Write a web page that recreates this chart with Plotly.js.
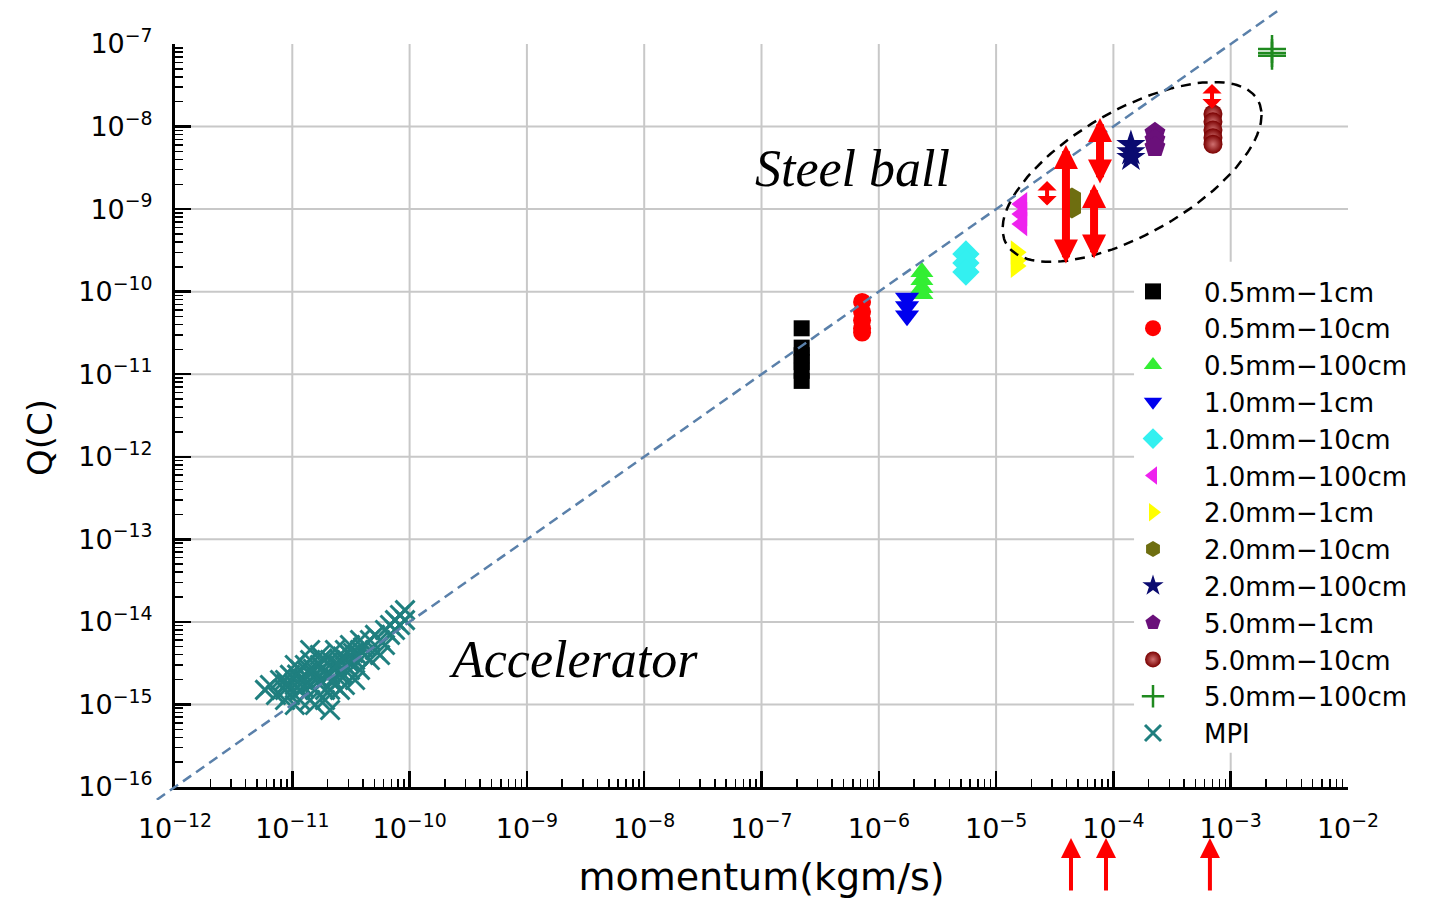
<!DOCTYPE html>
<html><head><meta charset="utf-8">
<script src="https://cdn.plot.ly/plotly-3.0.1.min.js"></script>
<style>html,body{margin:0;padding:0;background:#fff}#chart{width:1443px;height:900px}</style>
</head><body><div id="chart"></div>
<script>
// ---------- DATA ----------
const seriesNames = ["0.5mm\u22121cm","0.5mm\u221210cm","0.5mm\u2212100cm","1.0mm\u22121cm","1.0mm\u221210cm","1.0mm\u2212100cm","2.0mm\u22121cm","2.0mm\u221210cm","2.0mm\u2212100cm","5.0mm\u22121cm","5.0mm\u221210cm","5.0mm\u2212100cm","MPI"];

const p_05_1   = [2.2e-7, 2.2e-7, 2.2e-7, 2.2e-7, 2.2e-7, 2.2e-7];
const q_05_1   = [3.6e-11, 2.1e-11, 1.7e-11, 1.4e-11, 1.1e-11, 8.3e-12];
const p_05_10  = [7.2e-7, 7.2e-7, 7.2e-7, 7.2e-7, 7.2e-7];
const q_05_10  = [7.5e-11, 5.7e-11, 4.5e-11, 3.6e-11, 3.2e-11];
const p_05_100 = [2.33e-6, 2.33e-6, 2.33e-6, 2.33e-6];
const q_05_100 = [1.73e-10, 1.38e-10, 1.11e-10, 9.4e-11];
const p_10_1   = [1.74e-6, 1.74e-6, 1.74e-6];
const q_10_1   = [8.4e-11, 6.6e-11, 5.1e-11];
const p_10_10  = [5.53e-6, 5.53e-6, 5.53e-6];
const q_10_10  = [2.86e-10, 2.22e-10, 1.73e-10];
const p_10_100 = [1.66e-5, 1.66e-5, 1.66e-5];
const q_10_100 = [1.15e-9, 8.7e-10, 6.6e-10];
const p_20_1   = [1.48e-5, 1.48e-5, 1.48e-5];
const q_20_1   = [3.0e-10, 2.4e-10, 2.05e-10];
const p_20_10  = [4.43e-5, 4.43e-5];
const q_20_10  = [1.36e-9, 1.03e-9];
const p_20_100 = [1.41e-4, 1.41e-4, 1.41e-4];
const q_20_100 = [6.0e-9, 4.9e-9, 4.2e-9];
const p_50_1   = [2.26e-4, 2.26e-4, 2.26e-4];
const q_50_1   = [8.4e-9, 6.9e-9, 5.65e-9];
const p_50_10  = [7.06e-4, 7.06e-4, 7.06e-4, 7.06e-4, 7.06e-4];
const q_50_10  = [1.42e-8, 1.14e-8, 9.1e-9, 7.3e-9, 6.1e-9];
const p_50_100 = [2.25e-3, 2.25e-3, 2.25e-3];
const q_50_100 = [8.7e-8, 7.8e-8, 7.2e-8];

const p_mpi = [5.85e-12,6.45e-12,7.26e-12,7.86e-12,8.67e-12,8.67e-12,9.55e-12,9.55e-12,1.05e-11,1.05e-11,
  1.16e-11,1.16e-11,1.16e-11,1.28e-11,1.28e-11,1.42e-11,1.42e-11,1.42e-11,1.56e-11,1.56e-11,
  1.72e-11,1.72e-11,1.72e-11,1.90e-11,1.90e-11,2.10e-11,2.10e-11,2.10e-11,2.31e-11,2.31e-11,
  2.31e-11,2.55e-11,2.55e-11,2.81e-11,2.81e-11,3.10e-11,3.10e-11,3.10e-11,3.43e-11,3.43e-11,
  3.78e-11,3.78e-11,4.17e-11,4.17e-11,4.59e-11,4.59e-11,5.07e-11,5.07e-11,5.60e-11,6.17e-11,
  6.17e-11,6.81e-11,6.81e-11,7.51e-11,8.28e-11,8.28e-11,9.14e-11,9.14e-11,1.90e-11,2.55e-11,
  1.05e-11,1.42e-11,2.81e-11,3.78e-11,5.60e-11,7.51e-11,1.56e-11,1.16e-11,8.67e-12,2.10e-11,
  1.35e-11,1.65e-11,2.0e-11,2.4e-11,2.7e-11,3.3e-11,1.1e-11,1.5e-11,1.8e-11,2.2e-11,
  2.65e-11,3.0e-11,1.25e-11,4.0e-11,9.0e-12,1.95e-11,2.45e-11,3.6e-11];
const q_mpi = [1.50e-15,1.72e-15,1.30e-15,1.98e-15,1.50e-15,1.13e-15,2.28e-15,1.30e-15,1.72e-15,9.86e-16,
  2.62e-15,1.50e-15,1.13e-15,1.98e-15,3.01e-15,1.72e-15,1.13e-15,3.46e-15,2.28e-15,1.50e-15,
  3.01e-15,1.98e-15,3.97e-15,2.62e-15,1.50e-15,3.46e-15,2.28e-15,8.57e-16,4.57e-15,3.01e-15,
  1.72e-15,3.46e-15,2.28e-15,4.57e-15,3.01e-15,3.97e-15,2.62e-15,5.25e-15,3.46e-15,1.98e-15,
  4.57e-15,6.04e-15,3.97e-15,5.25e-15,6.04e-15,3.46e-15,6.95e-15,4.57e-15,6.04e-15,7.98e-15,
  5.25e-15,9.18e-15,6.95e-15,1.05e-14,1.21e-14,9.18e-15,1.39e-14,1.05e-14,1.13e-15,1.50e-15,
  3.01e-15,4.57e-15,1.72e-15,2.62e-15,3.97e-15,7.98e-15,9.86e-16,1.98e-15,1.98e-15,1.50e-15,
  2.5e-15,2.1e-15,3.2e-15,2.9e-15,3.8e-15,4.2e-15,2.3e-15,2.7e-15,3.6e-15,2.0e-15,
  2.4e-15,3.3e-15,1.6e-15,4.9e-15,1.8e-15,2.25e-15,3.1e-15,3.9e-15];

// reference line Q = 1e-4 * p
const refLineP = [7.0e-13, 2.5e-3];
const refLineQ = [7.0e-17, 2.5e-7];

// red double arrows (momentum, upper Q, lower Q)
const arrowMomentum = [6.93e-4, 7.69e-5, 3.94e-5, 6.84e-5, 2.72e-5];
const arrowQTop     = [3.28e-8, 1.27e-8, 5.98e-9, 2.01e-9, 2.19e-9];
const arrowQBottom  = [1.58e-8, 1.96e-9, 2.10e-10, 2.42e-10, 1.06e-9];
// red arrows under the x axis
const markMomentum  = [4.35e-5, 8.65e-5, 6.65e-4];

// axis ticks
const xExponents = [-12,-11,-10,-9,-8,-7,-6,-5,-4,-3,-2];
const yExponents = [-16,-15,-14,-13,-12,-11,-10,-9,-8,-7];
const minorDigits = [2,3,4,5,6,7,8,9];

// ---------- BUILD ----------
const W = 1443, H = 900;
const margin = {l:140, r:60, t:5, b:100};
const pw = W - margin.l - margin.r, ph = H - margin.t - margin.b;
const px2paperX = px => (px - margin.l)/pw;
const px2paperY = py => (H - margin.b - py)/ph;
const xDom = [px2paperX(175), px2paperX(1348)];
const yDom = [px2paperY(787), px2paperY(44)];
const xRange = [-12, -2], yRange = [-16, -7];
const xPer = (xDom[1]-xDom[0])/(xRange[1]-xRange[0]);
const yPer = (yDom[1]-yDom[0])/(yRange[1]-yRange[0]);
const x2Range = [xRange[0] - xDom[0]/xPer, xRange[1] + (1-xDom[1])/xPer];
const y2Range = [yRange[0] - yDom[0]/yPer, yRange[1] + (1-yDom[1])/yPer];

const pow10 = e => Math.pow(10, e);
const sup = e => '10<sup>' + (e < 0 ? '\u2212' + (-e) : e) + '</sup>';
const xTickVals = xExponents.map(pow10), xTickText = xExponents.map(sup);
const yTickVals = yExponents.map(pow10), yTickText = yExponents.map(sup);
const minorOf = exps => { const out = []; exps.slice(0,-1).forEach(e => minorDigits.forEach(d => out.push(d*pow10(e)))); return out; };

const series = [
  {x:p_05_1,   y:q_05_1,   sym:'square',         color:'#000000', size:16},
  {x:p_05_10,  y:q_05_10,  sym:'circle',         color:'#ff0000', size:18},
  {x:p_05_100, y:q_05_100, sym:'triangle-up',    color:'#33ee33', size:20},
  {x:p_10_1,   y:q_10_1,   sym:'triangle-down',  color:'#0000ee', size:21},
  {x:p_10_10,  y:q_10_10,  sym:'diamond',        color:'#33f0f0', size:21},
  {x:p_10_100, y:q_10_100, sym:'triangle-left',  color:'#ee22ee', size:21},
  {x:p_20_1,   y:q_20_1,   sym:'triangle-right', color:'#ffff00', size:21},
  {x:p_20_10,  y:q_20_10,  sym:'hexagon',        color:'#6e6e10', size:21},
  {x:p_20_100, y:q_20_100, sym:'star',           color:'#0a0a70', size:22},
  {x:p_50_1,   y:q_50_1,   sym:'pentagon',       color:'#6a107a', size:22},
  {x:p_50_10,  y:q_50_10,  sym:'circle',         color:'#7a0000', size:19, grad:'#d07070'},
  {x:p_50_100, y:q_50_100, sym:'cross-thin',     color:'#1f8a1f', size:20, thin:2.5},
  {x:p_mpi,    y:q_mpi,    sym:'x-thin',         color:'#1f7f7f', size:19, thin:3}
];

const traces = series.map((s, i) => {
  const m = {symbol:s.sym, size:s.size, color:s.color, line:{width:0}};
  if (s.thin) m.line = {width:s.thin, color:s.color};
  if (s.grad) m.gradient = {type:'radial', color:s.grad};
  return {type:'scatter', mode:'markers', name:seriesNames[i], x:s.x, y:s.y, marker:m, xaxis:'x', yaxis:'y', cliponaxis:false};
});

// dashed ellipse around steel ball data (log10 space parameters)
const ellC = [-3.841, -8.550], ellU = [1.104, 0.690], ellV = [0, -0.843];
const ex = [], ey = [];
for (let k = 0; k <= 120; k++) {
  const t = 2*Math.PI*k/120;
  ex.push(pow10(ellC[0] + ellU[0]*Math.cos(t) + ellV[0]*Math.sin(t)));
  ey.push(pow10(ellC[1] + ellU[1]*Math.cos(t) + ellV[1]*Math.sin(t)));
}
traces.push({type:'scatter', mode:'lines', x:ex, y:ey, showlegend:false, hoverinfo:'skip',
  line:{color:'#000', width:2.5, dash:'10px,7px'}, xaxis:'x', yaxis:'y'});

// reference line on an invisible overlay subplot so it can run past the axes
traces.push({type:'scatter', mode:'lines', x:refLineP, y:refLineQ, showlegend:false, hoverinfo:'skip',
  line:{color:'#5a80aa', width:2.5, dash:'10px,6px'}, xaxis:'x2', yaxis:'y2'});

// grid lines (interior decades only)
const shapes = [];
xTickVals.slice(1,-1).forEach(v => shapes.push({type:'line', xref:'x', yref:'y', x0:v, x1:v, y0:yTickVals[0], y1:yTickVals[yTickVals.length-1], layer:'below', line:{color:'#c8c8c8', width:2}}));
yTickVals.slice(1,-1).forEach(v => shapes.push({type:'line', xref:'x', yref:'y', y0:v, y1:v, x0:xTickVals[0], x1:xTickVals[xTickVals.length-1], layer:'below', line:{color:'#c8c8c8', width:2}}));
// white panel behind the legend (covers grid, keeps the 1e-4 grid line visible)
shapes.push({type:'rect', xref:'x', yref:'y', x0:1.5e-4, x1:1e-2, y0:2.6e-16, y1:2.3e-10, layer:'below', line:{width:0}, fillcolor:'#ffffff'});

const annotations = [];
const bigArrow = [false, true, true, true, false];
arrowMomentum.forEach((p, i) => {
  const big = bigArrow[i];
  annotations.push({xref:'x', yref:'y', axref:'x', ayref:'y', x:Math.log10(p), y:Math.log10(arrowQTop[i]),
    ax:Math.log10(p), ay:Math.log10(arrowQBottom[i]), text:'', showarrow:true, arrowside:'end+start',
    arrowhead: big ? 2 : 1, startarrowhead: big ? 2 : 1,
    arrowsize: big ? 0.6 : 0.8, startarrowsize: big ? 0.6 : 0.8,
    arrowwidth: big ? 8 : 4, arrowcolor:'#ff0000', standoff:0, startstandoff:0});
});
markMomentum.forEach(p => {
  annotations.push({xref:'x', yref:'paper', x:Math.log10(p), y:px2paperY(838), ax:0, ay:54,
    text:'', showarrow:true, arrowhead:2, arrowsize:1, arrowwidth:4, arrowcolor:'#ff0000', standoff:0});
});
annotations.push({xref:'x', yref:'y', x:-6.228, y:-8.502, text:'Steel ball', showarrow:false,
  font:{family:'Liberation Serif', style:'italic', size:52, color:'#000'}});
annotations.push({xref:'x', yref:'y', x:-8.607, y:-14.461, text:'Accelerator', showarrow:false,
  font:{family:'Liberation Serif', style:'italic', size:52, color:'#000'}});
// y-axis title
annotations.push({xref:'paper', yref:'paper', x:px2paperX(40), y:px2paperY(438), text:'Q(C)', textangle:-90,
  showarrow:false, xanchor:'center', yanchor:'middle', font:{family:'DejaVu Sans', size:34, color:'#000'}});

const axisCommon = {type:'log', showgrid:false, zeroline:false, showline:true, linewidth:3, linecolor:'#000',
  ticks:'inside', ticklen:16, tickwidth:2.5, tickcolor:'#000', tickmode:'array', tickfont:{size:27, color:'#000'}};

const layout = {
  width:W, height:H, margin:Object.assign({autoexpand:false}, margin),
  paper_bgcolor:'#ffffff', plot_bgcolor:'rgba(0,0,0,0)',
  font:{family:'DejaVu Sans', color:'#000'},
  showlegend:true,
  legend:{x:px2paperX(1102), y:px2paperY(268), xanchor:'left', yanchor:'top',
    bgcolor:'rgba(0,0,0,0)', borderwidth:0, font:{size:26, color:'#000'}, itemwidth:92, tracegroupgap:0},
  xaxis:Object.assign({}, axisCommon, {domain:xDom, range:xRange, anchor:'y', tickvals:xTickVals, ticktext:xTickText,
    ticklabelstandoff:16,
    minor:{ticks:'inside', ticklen:8, tickwidth:1.5, tickcolor:'#000', tickmode:'array', tickvals:minorOf(xExponents), showgrid:false},
    title:{text:'momentum(kgm/s)', font:{size:38}, standoff:20}}),
  yaxis:Object.assign({}, axisCommon, {domain:yDom, range:yRange, anchor:'x', tickvals:yTickVals, ticktext:yTickText,
    ticklabelstandoff:14,
    minor:{ticks:'inside', ticklen:8, tickwidth:1.5, tickcolor:'#000', tickmode:'array', tickvals:minorOf(yExponents), showgrid:false}}),
  xaxis2:{type:'log', domain:[0,1], range:x2Range, anchor:'y2', visible:false, showgrid:false, zeroline:false},
  yaxis2:{type:'log', domain:[0,1], range:y2Range, anchor:'x2', visible:false, showgrid:false, zeroline:false},
  shapes:shapes, annotations:annotations
};

Plotly.newPlot('chart', traces, layout, {displayModeBar:false, staticPlot:true});
</script>
</body></html>
